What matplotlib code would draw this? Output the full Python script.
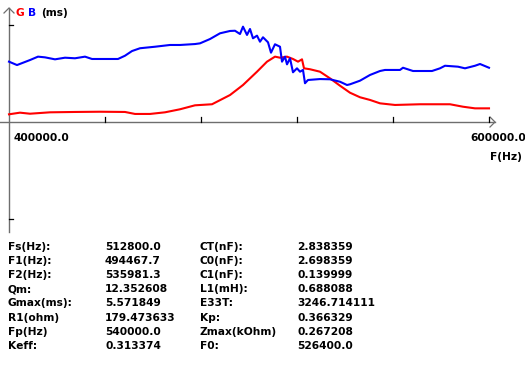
import matplotlib
matplotlib.use("Agg")
import matplotlib.pyplot as plt

# ---- data ----
freq_g = [400000, 404583, 408750, 417083, 427500, 437917, 448333, 452500, 458750,
          465000, 471250, 477500, 484583, 492083, 497500, 503333, 507500, 510833,
          512917, 515833, 518333, 520417, 522083, 522917, 525417, 529583, 533750,
          537917, 542083, 546250, 550417, 554583, 560833, 571250, 583750, 589167,
          594167, 600000]
g_ms = [0.66, 0.80, 0.71, 0.83, 0.86, 0.88, 0.86, 0.69, 0.69,
        0.83, 1.09, 1.43, 1.52, 2.31, 3.17, 4.31, 5.17, 5.60,
        5.51, 5.60, 5.40, 5.17, 5.37, 4.60, 4.52, 4.31, 3.74,
        3.11, 2.51, 2.12, 1.89, 1.60, 1.46, 1.52, 1.52, 1.31,
        1.17, 1.17]

freq_b = [400000, 403333, 408750, 412083, 415000, 419167, 423333, 427500, 431667,
          434583, 437917, 445417, 448333, 451250, 454583, 460833, 467083, 471250,
          477500, 479583, 483750, 487917, 492083, 494167, 496250, 497500, 499167,
          500417, 501667, 503333, 504583, 505833, 507917, 509167, 510833, 512917,
          513750, 515000, 515833, 517083, 518333, 520000, 521250, 522500, 523333,
          524583, 529583, 533750, 537917, 540833, 542083, 546250, 550417, 554583,
          556667, 562917, 564167, 568333, 576250, 579583, 581667, 587083, 590000,
          594167, 596250, 600000]
b_ms = [5.17, 4.88, 5.31, 5.60, 5.54, 5.37, 5.51, 5.46, 5.60,
        5.40, 5.40, 5.40, 5.68, 6.08, 6.32, 6.45, 6.60, 6.60,
        6.68, 6.74, 7.11, 7.60, 7.80, 7.82, 7.54, 8.17, 7.46,
        7.97, 7.17, 7.40, 6.88, 7.26, 6.83, 5.94, 6.66, 6.45,
        5.17, 5.60, 4.94, 5.46, 4.26, 4.60, 4.31, 4.46, 3.32,
        3.60, 3.68, 3.66, 3.45, 3.17, 3.23, 3.54, 4.03, 4.37,
        4.46, 4.46, 4.65, 4.37, 4.37, 4.60, 4.82, 4.74, 4.60,
        4.82, 4.97, 4.65]

x_ticks = [400000, 440000, 480000, 520000, 560000, 600000]
x_labels = ["400000.0", "600000.0"]
y_tick = 8.31

table_col1 = ["Fs(Hz):", "F1(Hz):", "F2(Hz):", "Qm:", "Gmax(ms):", "R1(ohm)", "Fp(Hz)", "Keff:"]
table_col2 = ["512800.0", "494467.7", "535981.3", "12.352608", "5.571849", "179.473633", "540000.0", "0.313374"]
table_col3 = ["CT(nF):", "C0(nF):", "C1(nF):", "L1(mH):", "E33T:", "Kp:", "Zmax(kOhm)", "F0:"]
table_col4 = ["2.838359", "2.698359", "0.139999", "0.688088", "3246.714111", "0.366329", "0.267208", "526400.0"]

# ---- layout ----
W, H = 525, 365
fig = plt.figure(figsize=(W / 100, H / 100), dpi=100)
ax = fig.add_axes([0, 0, 1, 1])
px_per_hz = 480 / 200000
px_per_ms = 11.67
x0_px, y0_px = 9, 122
ax.set_xlim(400000 - x0_px / px_per_hz, 400000 + (W - x0_px) / px_per_hz)
ax.set_ylim(-(H - y0_px) / px_per_ms, y0_px / px_per_ms)
ax.axis("off")

gray = "#6e6e6e"
FONT = dict(family="DejaVu Sans", weight="bold", size=7.7)

# axis lines
x_left = 400000 - x0_px / px_per_hz
x_right = 400000 + (495 - x0_px) / px_per_hz
y_top = (y0_px - 8) / px_per_ms
y_bot = -(232 - y0_px) / px_per_ms
ax.plot([x_left, x_right], [0, 0], color=gray, lw=1.0)
ax.plot([400000, 400000], [y_bot, y_top], color=gray, lw=1.0)
# open chevron arrow heads
ah = 5
ax.plot([x_right - ah / px_per_hz, x_right, x_right - ah / px_per_hz],
        [ah / px_per_ms, 0, -ah / px_per_ms], color=gray, lw=0.9)
ax.plot([400000 - ah / px_per_hz, 400000, 400000 + ah / px_per_hz],
        [y_top - ah / px_per_ms, y_top, y_top - ah / px_per_ms], color=gray, lw=0.9)

# ticks
for xt in x_ticks[1:]:
    ax.plot([xt, xt], [0, 5 / px_per_ms], color="black", lw=0.9)
for yt in (y_tick, -y_tick):
    ax.plot([400000, 400000 + 4 / px_per_hz], [yt, yt], color="black", lw=0.9)

# curves
ax.plot(freq_g, g_ms, color="#ff0000", lw=1.5, solid_joinstyle="round")
ax.plot(freq_b, b_ms, color="#0000ff", lw=1.5, solid_joinstyle="round")

# tick labels
ax.annotate(x_labels[0], xy=(x_ticks[0], 0), xytext=(5, -19),
            textcoords="offset pixels", ha="left", va="baseline", **FONT)
ax.annotate(x_labels[1], xy=(x_ticks[-1], 0), xytext=(-19, -19),
            textcoords="offset pixels", ha="left", va="baseline", **FONT)
ax.annotate("F(Hz)", xy=(x_ticks[-1], 0), xytext=(1, -38),
            textcoords="offset pixels", ha="left", va="baseline", **FONT)


def ftxt(x, y, s, color="black"):
    fig.text(x / W, 1 - y / H, s, color=color, ha="left", va="baseline", **FONT)


ftxt(15, 15.5, "G", "#ff0000")
ftxt(28, 15.5, "B", "#0000ff")
ftxt(41, 15.5, "(ms)")

cols_x = [8, 105, 200, 297]
for i in range(len(table_col1)):
    yb = 249.5 + 14.25 * i
    ftxt(cols_x[0], yb, table_col1[i])
    ftxt(cols_x[1], yb, table_col2[i])
    ftxt(cols_x[2], yb, table_col3[i])
    ftxt(cols_x[3], yb, table_col4[i])

fig.savefig("out.png", dpi=100, facecolor="white")
